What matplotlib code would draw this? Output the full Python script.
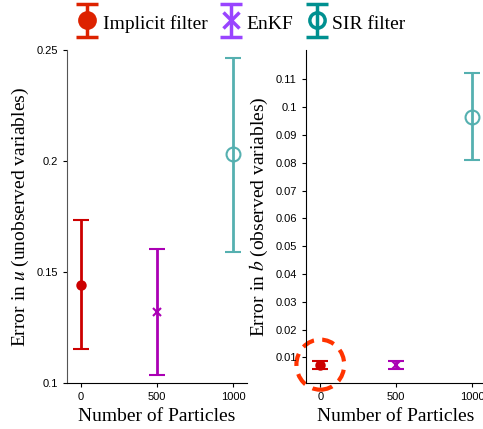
import numpy as np
import matplotlib.pyplot as plt
from matplotlib.patches import Ellipse
from matplotlib.legend_handler import HandlerErrorbar
from matplotlib.container import ErrorbarContainer

plt.rcParams['font.family'] = 'Liberation Serif'
plt.rcParams['mathtext.fontset'] = 'stix'

# data
methods = ["Implicit filter", "EnKF", "SIR filter"]
particles = [0, 500, 1000]

err_u = [0.1441, 0.1321, 0.2030]
err_u_low = [0.1153, 0.1036, 0.1591]
err_u_high = [0.1734, 0.1604, 0.2463]

err_b = [0.0074, 0.0074, 0.0964]
err_b_low = [0.0060, 0.0058, 0.0809]
err_b_high = [0.0088, 0.0087, 0.1122]

plot_colors = ['#cc0000', '#aa00b4', '#55b0b0']
legend_colors = ['#dd2200', '#9944ff', '#009090']
markers = ['o', 'x', 'o']
mfc = [None, None, 'none']
msizes = [6, 6, 10]

fig = plt.figure(figsize=(4.83, 4.29), dpi=100)
ax1 = fig.add_axes([0.1387, 0.1072, 0.3727, 0.7762])
ax2 = fig.add_axes([0.633, 0.1072, 0.3727, 0.7762])


def draw(ax, vals, lo, hi):
	for i in range(3):
		yerr = [[vals[i] - lo[i]], [hi[i] - vals[i]]]
		kw = dict(fmt=markers[i], color=plot_colors[i], ms=msizes[i], lw=2,
			capsize=6, capthick=2, mew=1.5)
		if mfc[i]:
			kw['mfc'] = mfc[i]
		ax.errorbar([particles[i]], [vals[i]], yerr=yerr, **kw)
	for s in ['top', 'right']:
		ax.spines[s].set_visible(False)
	ax.set_xticks([0, 500, 1000])
	ax.tick_params(direction='out', length=3, labelsize=8)
	ax.set_xlabel('Number of Particles', fontsize=14)


draw(ax1, err_u, err_u_low, err_u_high)
ax1.set_xlim(-92, 1090)
ax1.set_ylim(0.1, 0.25)
ax1.set_yticks([0.1, 0.15, 0.2, 0.25])
ax1.set_yticklabels(['0.1', '0.15', '0.2', '0.25'])
ax1.spines['left'].set_color('#555555')
ax1.set_ylabel(r'Error in $u$ (unobserved variables)', fontsize=14)

draw(ax2, err_b, err_b_low, err_b_high)
ax2.set_xlim(-96, 1090)
ax2.set_ylim(0.0008, 0.1205)
yt = [0.01, 0.02, 0.03, 0.04, 0.05, 0.06, 0.07, 0.08, 0.09, 0.1, 0.11]
ax2.set_yticks(yt)
ax2.set_yticklabels(['%g' % v for v in yt])
ax2.set_ylabel(r'Error in $b$ (observed variables)', fontsize=14)

for ax in (ax1, ax2):
	for lab in ax.get_xticklabels() + ax.get_yticklabels():
		lab.set_family('Liberation Sans')

# dashed circle highlighting the implicit filter in the right panel
circ = Ellipse((0, err_b[0]), width=315, height=0.0180, fill=False,
	edgecolor='#ff3300', ls=(0, (3, 2)), lw=3, clip_on=False)
ax2.add_patch(circ)

# legend proxies
handles = []
for i in range(3):
	kw = dict(fmt=markers[i], color=legend_colors[i], ms=11, lw=2.5,
		capsize=8, capthick=2.5, mew=2.5)
	if mfc[i]:
		kw['mfc'] = mfc[i]
	h = ax1.errorbar([np.nan], [np.nan], yerr=[[np.nan], [np.nan]], **kw)
	handles.append(h)
fig.legend(handles, methods, loc='upper center', bbox_to_anchor=(0.5, 1.015), ncol=3,
	frameon=False, fontsize=14, handlelength=1.0, handleheight=1.5,
	handletextpad=0.3, columnspacing=0.7,
	handler_map={ErrorbarContainer: HandlerErrorbar(xerr_size=0.5, yerr_size=0.85, numpoints=1)})

fig.savefig('out.png', dpi=100)
